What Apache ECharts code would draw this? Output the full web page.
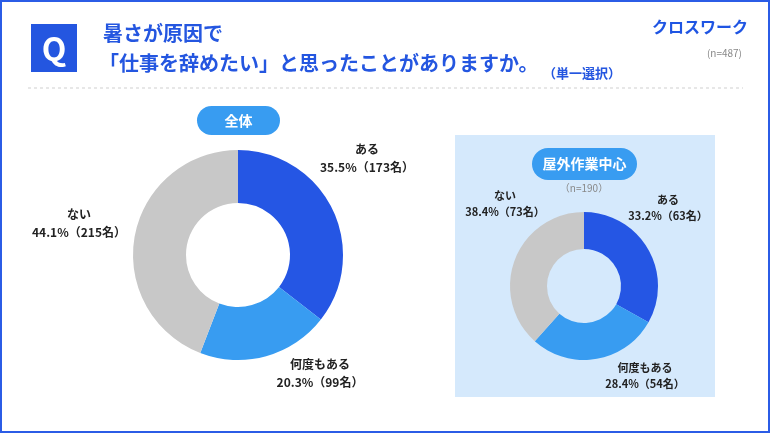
<!DOCTYPE html>
<html>
<head>
<meta charset="utf-8">
<script src="https://cdn.jsdelivr.net/npm/echarts@6/dist/echarts.min.js"></script>
<style>
  html, body { margin: 0; padding: 0; background: #fff; }
  #main { width: 770px; height: 433px; }
</style>
</head>
<body>
<div id="main"></div>
<script>
// 回答カテゴリ
const categories = ["ある", "何度もある", "ない"];
// 全体 (n=487)
const allCounts = [173, 99, 215];
// 屋外作業中心 (n=190)
const outdoorCounts = [63, 54, 73];
const allTotal = 487;
const outdoorTotal = 190;

const colors = ["#2556E4", "#389CF1", "#C8C8C8"];
const font = "'Noto Sans CJK JP', 'Noto Sans', sans-serif";

// ラベル位置（レイアウト用）
const allLabelPos = [[367, 158], [320, 373], [79, 223]];
const outdoorLabelPos = [[668, 208], [645, 376], [505, 204]];

const makeData = (counts) =>
  counts.map((v, i) => ({ name: categories[i], value: v, itemStyle: { color: colors[i] } }));

const fmt = (total) => (p) =>
  p.name + "\n" + ((p.value / total) * 100).toFixed(1) + "%（" + p.value + "名）";

const myChart = echarts.init(document.getElementById("main"));

const option = {
  animation: false,
  textStyle: { fontFamily: font },
  graphic: [
    // 外枠
    { type: "rect", shape: { x: 1, y: 1, width: 768, height: 431 },
      style: { fill: "none", stroke: "#2B5CE6", lineWidth: 2 } },
    // Q
    { type: "rect", shape: { x: 31, y: 24, width: 46, height: 48 }, style: { fill: "#2456E0" } },
    { type: "text", x: 54, y: 49,
      style: { text: "Q", fill: "#fff", font: "bold 32px " + font, textAlign: "center", textVerticalAlign: "middle" } },
    // 設問
    { type: "text", x: 103, y: 33,
      style: { text: "暑さが原因で", fill: "#2456E0", font: "bold 20px " + font, textVerticalAlign: "middle" } },
    { type: "text", x: 99, y: 63,
      style: { text: "「仕事を辞めたい」と思ったことがありますか。", fill: "#2456E0", font: "bold 20px " + font, textVerticalAlign: "middle" } },
    { type: "text", x: 582, y: 73,
      style: { text: "（単一選択）", fill: "#2456E0", font: "bold 13px " + font, textAlign: "center", textVerticalAlign: "middle" } },
    // ロゴ
    { type: "text", x: 748, y: 27,
      style: { text: "クロスワーク", fill: "#1F55E3", font: "bold 16px " + font, textAlign: "right", textVerticalAlign: "middle" } },
    { type: "text", x: 742, y: 53,
      style: { text: "(n=487)", fill: "#888", font: "10px " + font, textAlign: "right", textVerticalAlign: "middle" } },
    // 区切り線
    { type: "line", shape: { x1: 28, y1: 88, x2: 743, y2: 88 },
      style: { stroke: "#D0D0D0", lineWidth: 1, lineDash: [3, 3] } },
    // 右パネル
    { type: "rect", z: -10, shape: { x: 455, y: 135, width: 260, height: 262 }, style: { fill: "#D5E9FC" } },
    // 見出しピル
    { type: "rect", shape: { x: 197, y: 106, width: 83, height: 29, r: 14.5 }, style: { fill: "#389CF1" } },
    { type: "text", x: 238.5, y: 120.5,
      style: { text: "全体", fill: "#fff", font: "bold 14px " + font, textAlign: "center", textVerticalAlign: "middle" } },
    { type: "rect", shape: { x: 532, y: 148, width: 105, height: 32, r: 16 }, style: { fill: "#389CF1" } },
    { type: "text", x: 584.5, y: 164,
      style: { text: "屋外作業中心", fill: "#fff", font: "bold 14px " + font, textAlign: "center", textVerticalAlign: "middle" } },
    { type: "text", x: 584, y: 188,
      style: { text: "（n=190）", fill: "#888", font: "10px " + font, textAlign: "center", textVerticalAlign: "middle" } }
  ],
  series: [
    {
      type: "pie",
      center: [238, 255],
      radius: [52, 105],
      startAngle: 90,
      clockwise: true,
      data: makeData(allCounts),
      label: {
        show: true,
        position: "inner",
        overflow: "none",
        formatter: fmt(allTotal),
        fontSize: 12,
        fontWeight: "bold",
        color: "#222",
        lineHeight: 18,
        align: "center"
      },
      labelLine: { show: false },
      labelLayout: (p) => ({
        x: allLabelPos[p.dataIndex][0],
        y: allLabelPos[p.dataIndex][1],
        align: "center",
        verticalAlign: "middle"
      }),
      emphasis: { disabled: true }
    },
    {
      type: "pie",
      center: [584, 286],
      radius: [37, 74],
      startAngle: 90,
      clockwise: true,
      data: makeData(outdoorCounts),
      label: {
        show: true,
        position: "inner",
        overflow: "none",
        formatter: fmt(outdoorTotal),
        fontSize: 11,
        fontWeight: "bold",
        color: "#222",
        lineHeight: 16,
        align: "center"
      },
      labelLine: { show: false },
      labelLayout: (p) => ({
        x: outdoorLabelPos[p.dataIndex][0],
        y: outdoorLabelPos[p.dataIndex][1],
        align: "center",
        verticalAlign: "middle"
      }),
      emphasis: { disabled: true }
    }
  ]
};

myChart.setOption(option);
</script>
</body>
</html>
